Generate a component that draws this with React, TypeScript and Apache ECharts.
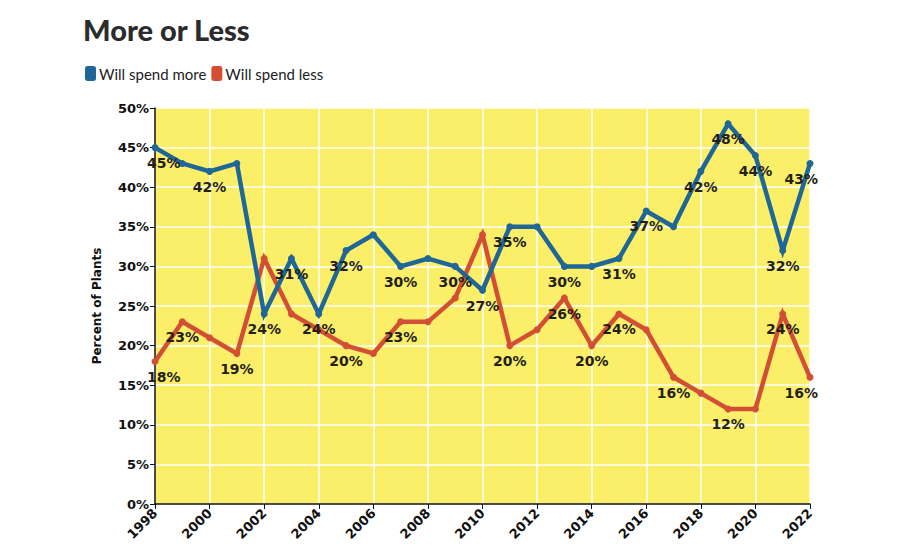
import React, { useEffect, useRef } from "react";
import * as echarts from "echarts";

const years = [
  1998, 1999, 2000, 2001, 2002, 2003, 2004, 2005, 2006, 2007, 2008, 2009, 2010,
  2011, 2012, 2013, 2014, 2015, 2016, 2017, 2018, 2019, 2020, 2021, 2022,
];
const spendMore = [
  45, 43, 42, 43, 24, 31, 24, 32, 34, 30, 31, 30, 27, 35, 35, 30, 30, 31, 37, 35,
  42, 48, 44, 32, 43,
];
const spendLess = [
  18, 23, 21, 19, 31, 24, 22, 20, 19, 23, 23, 26, 34, 20, 22, 26, 20, 24, 22, 16,
  14, 12, 12, 24, 16,
];
// Years whose value is printed next to the point
const moreLabelYears = [
  1998, 2000, 2002, 2003, 2004, 2005, 2007, 2009, 2010, 2011, 2013, 2015, 2016,
  2018, 2019, 2020, 2021, 2022,
];
const lessLabelYears = [
  1998, 1999, 2001, 2005, 2007, 2011, 2013, 2014, 2015, 2017, 2019, 2021, 2022,
];
const yTicks = { min: 0, max: 50, interval: 5 };
const seriesNames = ["Will spend more", "Will spend less"];

const BLUE = "#1f6796";
const RED = "#d24f35";

function buildData(values: number[], labelYears: number[]) {
  return values.map((v, i) => {
    const y = years[i];
    const show = labelYears.includes(y);
    const first = i === 0;
    const last = i === values.length - 1;
    return {
      value: [y, v],
      label: {
        show,
        align: first ? "left" : last ? "right" : "center",
        offset: first ? [-8, 0] : last ? [8, 0] : [0, 0],
      },
    };
  });
}

export default function App() {
  const ref = useRef<HTMLDivElement>(null);

  useEffect(() => {
    document.body.style.margin = "0";
    if (!ref.current) return;
    const chart = echarts.init(ref.current, null, { renderer: "svg" });
    const labelStyle = {
      position: "bottom",
      distance: 5,
      formatter: (p: any) => `${p.value[1]}%`,
      fontFamily: "DejaVu Sans",
      fontWeight: "bold",
      fontSize: 14,
      color: "#231f1c",
    };
    chart.setOption({
      animation: false,
      backgroundColor: "#ffffff",
      title: {
        text: "More or Less",
        left: 78,
        top: 10,
        textStyle: {
          fontFamily: "Lato",
          fontWeight: 900,
          fontSize: 29,
          color: "#2b2b2b",
        },
      },
      legend: {
        left: 80,
        top: 61,
        itemWidth: 11,
        itemHeight: 15,
        itemGap: 5,
        icon: "roundRect",
        data: seriesNames,
        textStyle: {
          fontFamily: "Lato",
          fontSize: 15,
          color: "#222",
          padding: [0, 0, 0, -2],
        },
      },
      grid: {
        left: 155,
        right: 90,
        top: 108,
        bottom: 46,
        show: true,
        backgroundColor: "#fbee69",
        borderWidth: 0,
      },
      xAxis: {
        type: "value",
        min: years[0],
        max: years[years.length - 1],
        interval: 2,
        axisLine: { show: true, lineStyle: { color: "#111", width: 1.5 } },
        axisTick: { show: true, length: 5, lineStyle: { color: "#111" } },
        splitLine: { show: true, lineStyle: { color: "#ffffff", width: 1.5 } },
        axisLabel: {
          rotate: 45,
          margin: 7,
          color: "#111",
          fontFamily: "DejaVu Sans",
          fontWeight: "bold",
          fontSize: 13,
          formatter: (v: number) => String(v),
        },
      },
      yAxis: {
        type: "value",
        min: yTicks.min,
        max: yTicks.max,
        interval: yTicks.interval,
        name: "Percent of Plants",
        nameLocation: "middle",
        nameGap: 52,
        nameTextStyle: {
          fontFamily: "DejaVu Sans",
          fontWeight: "bold",
          fontSize: 12,
          color: "#111",
        },
        axisLine: { show: true, lineStyle: { color: "#111", width: 1.5 } },
        axisTick: { show: true, length: 5, lineStyle: { color: "#111" } },
        splitLine: { show: true, lineStyle: { color: "#ffffff", width: 1.5 } },
        axisLabel: {
          color: "#111",
          fontFamily: "DejaVu Sans",
          fontWeight: "bold",
          fontSize: 13,
          margin: 6,
          formatter: "{value}%",
        },
      },
      series: [
        {
          name: seriesNames[0],
          type: "line",
          data: buildData(spendMore, moreLabelYears),
          color: BLUE,
          symbol: "circle",
          symbolSize: 7,
          lineStyle: { width: 4.5, color: BLUE, join: "miter" },
          itemStyle: { color: BLUE },
          label: labelStyle,
          z: 3,
        },
        {
          name: seriesNames[1],
          type: "line",
          data: buildData(spendLess, lessLabelYears),
          color: RED,
          symbol: "circle",
          symbolSize: 7,
          lineStyle: { width: 4.5, color: RED, join: "miter" },
          itemStyle: { color: RED },
          label: labelStyle,
          z: 2,
        },
      ],
    });
    return () => chart.dispose();
  }, []);

  return <div ref={ref} style={{ width: 900, height: 550 }} />;
}
